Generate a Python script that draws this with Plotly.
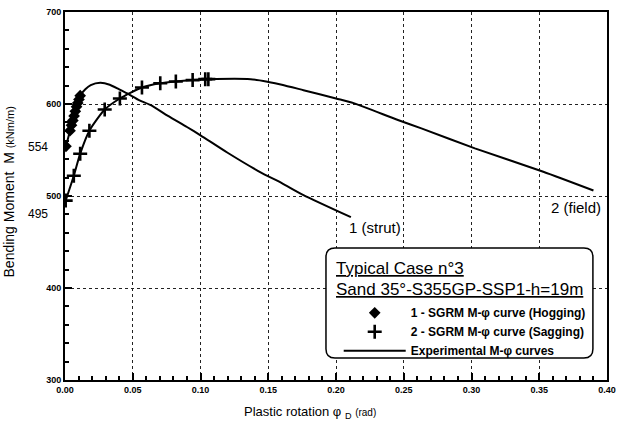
import plotly.graph_objects as go

# ---- data ----
hog_x = [0.0007, 0.0037, 0.0048, 0.0058, 0.0067, 0.0076, 0.0085, 0.0094, 0.0103, 0.0112]
hog_y = [554, 571, 577, 582, 587, 592, 597, 601, 605, 609]

sag_x = [0.0005, 0.0065, 0.0112, 0.018, 0.0293, 0.0405, 0.0568, 0.0703, 0.0818, 0.0942, 0.1035, 0.1058]
sag_y = [495, 522, 546, 571, 594, 606, 618, 622.5, 624.5, 626, 627, 627]

strut_x = [0.0007, 0.0037, 0.0076, 0.0112, 0.015, 0.019, 0.026, 0.033, 0.040, 0.046, 0.055,
           0.063, 0.076, 0.090, 0.100, 0.120, 0.144, 0.160, 0.176, 0.211]
strut_y = [554, 571, 592, 609, 616, 620.5, 623, 621, 616, 611.5, 604,
           599, 587, 575, 566, 547, 526, 514, 501, 477]

field_x = [0.0005, 0.0065, 0.0112, 0.018, 0.0293, 0.0405, 0.0568, 0.0703, 0.0818, 0.0942, 0.106,
           0.137, 0.150, 0.160, 0.176, 0.200, 0.213, 0.2457, 0.263, 0.3025, 0.353, 0.390]
field_y = [495, 522, 546, 571, 594, 606, 618, 622.5, 624.5, 626, 627,
           627, 624, 621, 615, 606, 601, 582.6, 573.5, 551.8, 526.4, 506]

x_ticks = [0.00, 0.05, 0.10, 0.15, 0.20, 0.25, 0.30, 0.35, 0.40]
y_ticks = [300, 400, 500, 600, 700]
extra_y_labels = [554, 495]

legend_title_lines = ["Typical Case n°3", "Sand 35°-S355GP-SSP1-h=19m"]

FONT = "Arial, Liberation Sans, sans-serif"

fig = go.Figure()

fig.add_trace(go.Scatter(
    x=hog_x, y=hog_y, mode="markers", name="1 - SGRM M-φ curve (Hogging)",
    marker=dict(symbol="diamond", size=9, color="black"),
))
fig.add_trace(go.Scatter(
    x=sag_x, y=sag_y, mode="markers", name="2 - SGRM M-φ curve (Sagging)",
    marker=dict(symbol="cross-thin", size=10, color="black", line=dict(width=2.6, color="black")),
))
fig.add_trace(go.Scatter(
    x=strut_x, y=strut_y, mode="lines", name="Experimental M-φ curves",
    line=dict(color="black", width=2, shape="spline", smoothing=0.6),
))
fig.add_trace(go.Scatter(
    x=field_x, y=field_y, mode="lines", showlegend=False,
    line=dict(color="black", width=2, shape="spline", smoothing=0.6),
))

axis_common = dict(
    showline=True, linecolor="black", linewidth=2, mirror=True,
    ticks="inside", ticklen=7, tickwidth=1.5, tickcolor="black",
    showgrid=True, gridcolor="#222", griddash="dot", gridwidth=1,
    zeroline=False, automargin=False,
    tickfont=dict(family=FONT, size=9, color="black", weight="bold"),
)

fig.update_xaxes(
    range=[0, 0.4], tickvals=x_ticks, ticktext=[f"{v:.2f}" for v in x_ticks],
    minor=dict(dtick=0.01, ticks="inside", ticklen=4, tickcolor="black", tickwidth=1.5, showgrid=False),
    **axis_common,
)
fig.update_yaxes(
    range=[300, 700], tickvals=y_ticks, ticktext=[str(v) for v in y_ticks],
    minor=dict(dtick=20, ticks="inside", ticklen=4, tickcolor="black", tickwidth=1.5, showgrid=False),
    **axis_common,
)

annotations = []
# extra y labels
for v, ys in zip(extra_y_labels, [-1, -13]):
    annotations.append(dict(
        x=-0.027, xref="paper", y=v, yref="y", yshift=ys, text=str(v), showarrow=False,
        xanchor="right", yanchor="middle", font=dict(family=FONT, size=12, color="black"),
    ))
# curve labels
annotations.append(dict(x=0.208, y=466, xref="x", yref="y", text="1 (strut)", showarrow=False,
                        xanchor="left", yanchor="middle", font=dict(family=FONT, size=15, color="black")))
annotations.append(dict(x=0.357, y=488, xref="x", yref="y", text="2 (field)", showarrow=False,
                        xanchor="left", yanchor="middle", font=dict(family=FONT, size=15, color="black")))
# axis titles
annotations.append(dict(
    x=-0.103, y=0.51, xref="paper", yref="paper", textangle=-90, showarrow=False,
    text="Bending Moment  M <span style='font-size:11px'>(kNm/m)</span>",
    xanchor="center", yanchor="middle", font=dict(family=FONT, size=14, color="black"),
))
annotations.append(dict(
    x=0.452, y=-0.087, xref="paper", yref="paper", showarrow=False,
    text="Plastic rotation φ <sub>D</sub> <span style='font-size:10px'>(rad)</span>",
    xanchor="center", yanchor="middle", font=dict(family=FONT, size=13, color="black"),
))
# legend title lines
for txt, yy in zip(legend_title_lines, [0.3043, 0.2446]):
    annotations.append(dict(
        x=0.497, y=yy, xref="paper", yref="paper", showarrow=False, text=f"<u>{txt}</u>",
        xanchor="left", yanchor="middle", font=dict(family=FONT, size=17, color="black"),
    ))

# rounded legend box
x0, x1, y0, y1 = 0.4815, 0.974, 0.0598, 0.3587
rx, ry = 9 / 542, 9 / 368
path = (f"M {x0+rx},{y0} L {x1-rx},{y0} Q {x1},{y0} {x1},{y0+ry} L {x1},{y1-ry} "
        f"Q {x1},{y1} {x1-rx},{y1} L {x0+rx},{y1} Q {x0},{y1} {x0},{y1-ry} "
        f"L {x0},{y0+ry} Q {x0},{y0} {x0+rx},{y0} Z")

fig.update_layout(
    width=619, height=427,
    margin=dict(l=65, r=12, t=12, b=47),
    plot_bgcolor="white", paper_bgcolor="white",
    annotations=annotations,
    shapes=[dict(type="path", path=path, xref="paper", yref="paper",
                 line=dict(color="black", width=1.5), fillcolor="white", layer="above")],
    legend=dict(
        x=0.505, y=0.222, xanchor="left", yanchor="top",
        bgcolor="rgba(0,0,0,0)", borderwidth=0,
        font=dict(family=FONT, size=12, color="black", weight="bold"),
        itemwidth=62, tracegroupgap=0,
    ),
    showlegend=True,
)

fig.write_html("out.html")
